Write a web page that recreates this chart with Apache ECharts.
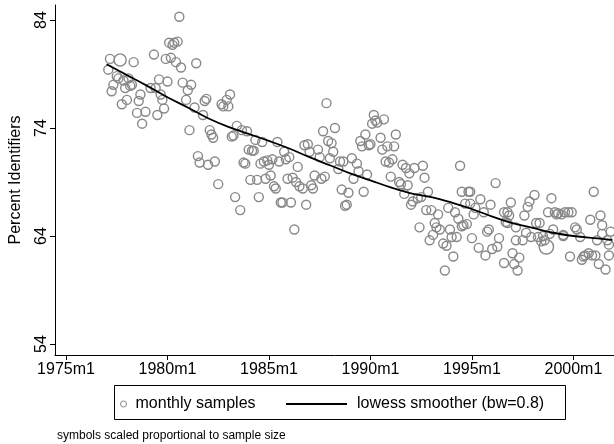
<!DOCTYPE html>
<html>
<head>
<meta charset="utf-8">
<script src="https://cdn.jsdelivr.net/npm/echarts@6/dist/echarts.min.js"></script>
<style>
html,body{margin:0;padding:0;background:#fff;}
#chart{width:614px;height:444px;}
</style>
</head>
<body>
<div id="chart"></div>
<script>
// Months are Stata %tm indexes (months since 1960m1)
const months = [205,206,207,208,210,211,212,213,214,215,216,217,218,219,220,222,223,224,225,227,230,232,233,234,235,236,237,238,239,240,241,242,243,244,245,246,247,248,249,251,252,253,254,256,257,258,259,261,262,263,264,265,266,267,268,270,272,273,275,276,277,278,279,280,281,283,284,285,286,287,288,289,290,291,292,293,294,295,296,297,298,299,300,301,302,303,304,305,306,307,308,309,310,311,312,313,314,315,316,317,318,320,321,322,323,324,325,326,327,329,330,331,332,333,334,335,336,337,338,339,341,342,343,344,345,346,347,349,350,352,353,354,355,356,357,358,359,360,361,362,363,364,366,367,368,369,370,371,372,373,374,375,377,378,379,380,381,382,383,384,385,386,388,389,390,391,392,393,394,395,396,397,398,399,400,401,403,404,405,406,407,408,409,410,411,412,413,414,414,415,416,417,418,419,419,420,421,422,424,425,427,428,429,430,431,432,434,435,436,439,439,440,441,441,442,443,444,445,446,446,447,448,450,451,452,453,454,455,457,458,459,460,461,462,463,464,465,466,467,468,469,470,471,473,474,474,475,477,478,479,481,482,484,485,486,487,489,490,491,492,493,494,495,496,497,497,499,500,501,501,502];
const pctIdentifiers = [79.4,80.4,77.4,78.0,78.8,78.6,80.3,76.2,78.4,77.7,76.6,78.6,77.9,78.0,80.1,75.4,76.5,77.1,74.4,75.5,77.7,80.8,77.7,75.2,78.5,77.1,76.6,75.8,80.4,78.3,81.9,80.5,81.7,81.9,80.1,82.0,84.3,79.6,78.2,76.6,77.5,73.8,78.0,75.9,80.0,71.4,70.8,75.2,76.5,76.7,70.6,73.8,73.4,73.1,70.9,68.8,76.2,76.0,76.6,76.0,77.1,73.2,73.3,67.6,74.2,66.4,73.8,70.8,70.7,73.7,72.0,69.2,71.9,71.9,72.9,69.2,67.6,70.7,72.7,70.9,69.3,71.0,70.6,69.6,71.1,68.6,68.4,72.7,70.9,67.1,67.1,71.8,71.1,69.3,71.3,67.1,69.4,64.6,69.0,70.4,68.6,68.4,72.4,66.9,72.5,71.8,68.7,68.4,69.6,72.0,71.3,69.3,73.7,69.5,76.3,72.8,71.2,72.6,71.8,74.0,70.2,70.9,68.3,70.9,66.8,66.9,68.0,71.2,69.3,70.7,70.0,72.8,72.3,68.1,73.4,69.7,72.4,72.5,74.4,75.2,74.7,74.5,73.1,72.0,74.8,70.9,72.3,70.8,69.5,71.1,72.3,73.4,69.0,68.8,70.6,67.9,70.3,68.7,69.8,66.9,67.2,70.3,67.5,64.8,67.6,70.5,69.4,66.4,68.1,63.6,66.4,64.1,65.2,64.8,66.0,64.6,63.3,60.8,63.1,66.6,64.6,63.9,62.1,66.2,63.9,65.6,70.5,64.9,68.1,65.0,67.0,65.1,68.1,68.1,67.0,63.8,66.0,66.6,62.9,67.4,66.2,62.2,64.4,64.6,66.9,62.8,68.9,63.0,63.8,66.2,61.5,65.3,66.2,65.2,65.9,67.1,62.4,61.4,63.6,64.8,60.8,62.0,63.6,65.9,64.3,66.7,67.2,63.9,67.8,65.2,63.9,65.2,63.5,64.0,63.6,63.0,66.2,64.2,67.5,64.6,66.2,66.0,66.1,66.0,64.0,64.1,66.2,66.2,62.1,66.2,64.8,64.6,63.9,61.8,62.1,62.2,62.4,65.5,62.2,68.1,62.2,63.6,61.4,65.9,65.0,64.2,60.9,63.6,63.2,62.2,64.4];
// relative sample-size weight for the few visibly larger symbols (month -> weight)
const largeSamples = {212: 1.35, 464: 1.6};

const lowessMonths = [204,216,228,240,252,264,276,288,300,312,324,336,348,360,372,384,396,408,420,432,444,456,468,480,492,503];
const lowessValues = [79.9,78.9,77.9,76.85,75.9,74.9,74.1,73.45,72.8,72.1,71.3,70.55,69.8,69.15,68.5,67.95,67.6,67.1,66.5,65.8,65.2,64.75,64.3,64.0,63.8,63.65];

const xTicks = [180,240,300,360,420,480];
const yTicks = [54,64,74,84];

const FONT = 'Liberation Sans, Arial, Helvetica, sans-serif';
const fmtMonth = m => (1960 + Math.floor(m / 12)) + 'm' + (m % 12 + 1);

const chart = echarts.init(document.getElementById('chart'), null, {renderer: 'canvas'});
chart.setOption({
  backgroundColor: '#ffffff',
  animation: false,
  textStyle: {fontFamily: FONT},
  title: {
    text: 'symbols scaled proportional to sample size',
    left: 52, top: 425,
    textStyle: {fontSize: 12, fontWeight: 'normal', color: '#000', fontFamily: FONT}
  },
  grid: {left: 52, right: 0, top: 5, bottom: 89, containLabel: false},
  legend: [
    {
      data: [{name: 'monthly samples', icon: 'circle',
              itemStyle: {color: '#fff', borderColor: '#888', borderWidth: 1}}],
      left: 115, top: 391, itemWidth: 6, itemHeight: 6,
      textStyle: {fontSize: 16, color: '#000', fontFamily: FONT, padding: [0, 0, 0, 4]},
      selectedMode: false
    },
    {
      data: [{name: 'lowess smoother (bw=0.8)', icon: 'rect',
              itemStyle: {color: '#000', borderWidth: 0}}],
      left: 281, top: 391, itemWidth: 61, itemHeight: 2,
      textStyle: {fontSize: 16, color: '#000', fontFamily: FONT, padding: [0, 0, 0, 5]},
      selectedMode: false
    }
  ],
  graphic: [{
    type: 'rect', left: 112, top: 383, silent: true,
    shape: {width: 451, height: 34},
    style: {fill: 'none', stroke: '#000', lineWidth: 1}
  }],
  xAxis: {
    type: 'value', min: 173.5, max: 504,
    axisLine: {show: true, lineStyle: {color: '#000', width: 1}},
    axisTick: {show: true, length: 5, customValues: xTicks, lineStyle: {color: '#000'}},
    axisLabel: {customValues: xTicks, formatter: v => fmtMonth(v), fontSize: 16, color: '#000', margin: 7, fontFamily: FONT},
    splitLine: {show: false}
  },
  yAxis: {
    type: 'value', min: 52.98, max: 85.39,
    name: 'Percent Identifiers', nameLocation: 'middle', nameGap: 31, nameRotate: 90,
    nameTextStyle: {fontSize: 16, color: '#000', fontFamily: FONT},
    axisLine: {show: true, lineStyle: {color: '#000', width: 1}},
    axisTick: {show: true, length: 5, customValues: yTicks, lineStyle: {color: '#000'}},
    axisLabel: {customValues: yTicks, rotate: 90, fontSize: 16, color: '#000', margin: 5, fontFamily: FONT},
    splitLine: {show: false}
  },
  series: [
    {
      name: 'monthly samples', type: 'scatter',
      data: months.map((m, i) => [m, pctIdentifiers[i]]),
      symbol: 'circle',
      symbolSize: v => 9 * (largeSamples[v[0]] || 1),
      itemStyle: {color: 'rgba(255,255,255,0)', borderColor: '#888', borderWidth: 1.4, opacity: 1},
      z: 2
    },
    {
      name: 'lowess smoother (bw=0.8)', type: 'line',
      data: lowessMonths.map((m, i) => [m, lowessValues[i]]),
      smooth: 0.4, symbol: 'none', showSymbol: false,
      lineStyle: {color: '#000', width: 1.8},
      itemStyle: {color: '#000'},
      z: 3
    }
  ]
});
</script>
</body>
</html>
